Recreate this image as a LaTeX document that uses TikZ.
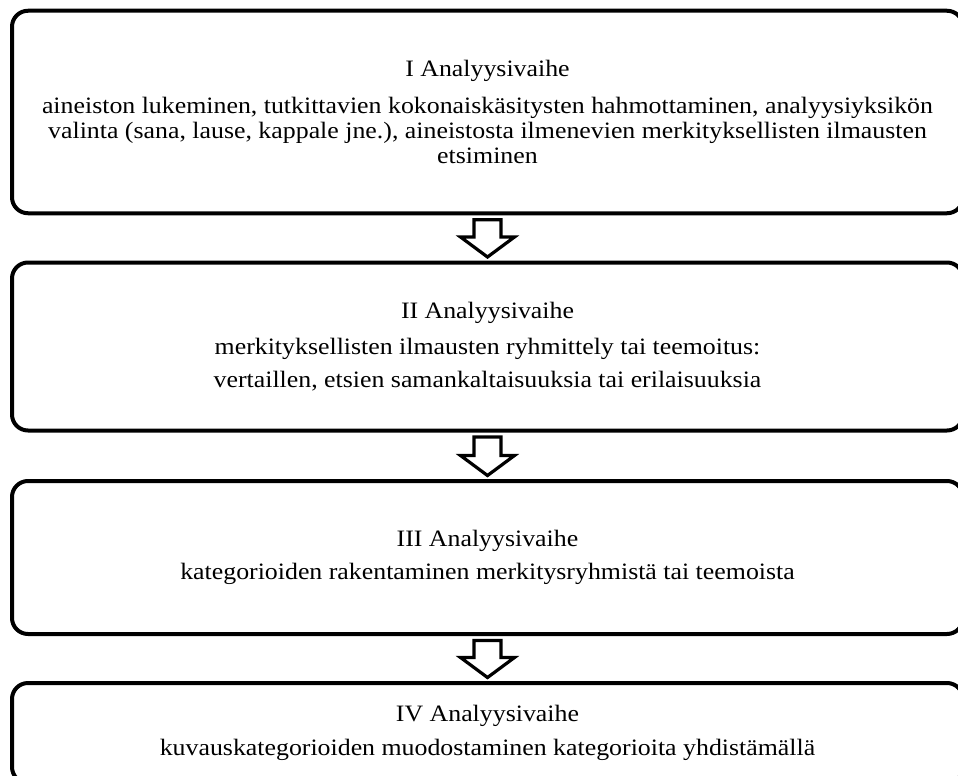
\documentclass[tikz,border=0pt]{standalone}
\usepackage{fontspec}
\setmainfont{Liberation Serif}[FakeStretch=1.10]
\usetikzlibrary{calc}

\begin{document}
\begin{tikzpicture}
[
x=1pt,y=-1pt,
stagebox/.style={draw,line width=4pt,rounded corners=16pt,minimum width=951pt,
            inner sep=0pt,align=center,font=\fontsize{23.5}{25}\selectfont},
downarrow/.style={draw,line width=3.2pt,fill=white},
]
\useasboundingbox (0,0) rectangle (958,776);

%Place the stage boxes
\node[stagebox,minimum height=202.5pt] (b1) at (487.5,112) {I Analyysivaihe\\[12pt]
aineiston lukeminen, tutkittavien kokonaiskäsitysten hahmottaminen, analyysiyksikön\\
valinta (sana, lause, kappale jne.), aineistosta ilmenevien merkityksellisten ilmausten\\
etsiminen};
\node[stagebox,minimum height=168pt] (b2) at (487.5,346.5) {II Analyysivaihe\\[11pt]
merkityksellisten ilmausten ryhmittely tai teemoitus:\\[8pt]
vertaillen, etsien samankaltaisuuksia tai erilaisuuksia};
\node[stagebox,minimum height=153pt] (b3) at (487.5,557.5) {III Analyysivaihe\\[8pt]
kategorioiden rakentaminen merkitysryhmistä tai teemoista};
\node[stagebox,minimum height=100pt] (b4) at (487.5,733) {IV Analyysivaihe\\[9pt]
kuvauskategorioiden muodostaminen kategorioita yhdistämällä};

%Draw the hollow arrows between the boxes
\foreach \u/\v in {b1/b2,b2/b3,b3/b4}{
  \coordinate (\u top) at ($(\u.south)+(0,4.5)$);
  \coordinate (\v tip) at ($(\v.north)+(0,-3.5)$);
  \draw[downarrow] ($(\u top)+(-13.5,0)$) -- ($(\v tip)+(-13.5,-20)$) -- ++(-13.5,0)
    -- (\v tip) -- ++(27,-20) -- ++(-13.5,0) -- ($(\u top)+(13.5,0)$) -- cycle;
}
\end{tikzpicture}
\end{document}
